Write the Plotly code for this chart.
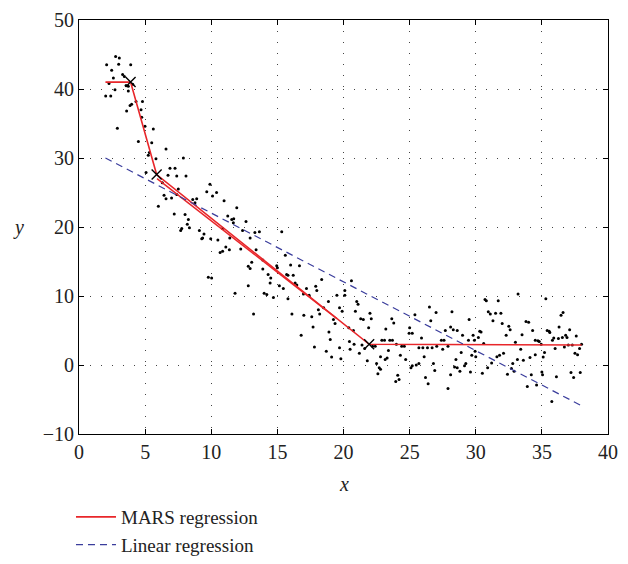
import plotly.graph_objects as go

obs_x = [
    2.09, 2.77, 3.05, 3.0, 3.91, 2.47, 2.6, 3.3, 3.43, 2.27, 2.02, 2.4, 2.72, 3.73, 3.73, 3.56, 4.06,
    3.86, 3.6, 3.98, 4.31, 4.8, 4.69, 4.74, 2.9, 4.99, 5.62, 4.49, 5.5, 5.32, 5.24, 6.58, 5.82, 7.89,
    5.07, 6.88, 7.26, 6.73, 7.39, 8.09, 7.51, 6.43, 6.58, 8.6, 8.9, 9.66, 10.1, 10.4, 9.9, 10.97,
    6.3, 7.0, 7.39, 6.0, 8.77, 11.93, 7.2, 8.02, 8.27, 8.19, 8.35, 7.77, 7.69, 9.1, 9.45, 9.35, 9.28,
    9.96, 10.5, 10.67, 10.86, 11.1, 11.37, 11.4, 10.86, 11.25, 11.55, 11.67, 11.7, 12.63, 12.37,
    12.23, 12.94, 13.3, 13.64, 13.39, 13.06, 12.8, 12.94, 15.33, 13.9, 13.9, 14.3, 14.5, 14.95, 15.0,
    15.6, 15.7, 15.8, 16.0, 16.2, 16.67, 16.34, 16.47, 17.2, 18.35, 17.9, 17.98, 12.8, 14.45, 14.0,
    14.2, 14.7, 15.15, 15.45, 15.8, 16.97, 17.4, 11.8, 9.78, 10.03, 13.2, 16.1, 17.0, 17.6, 17.7,
    18.1, 18.2, 18.5, 18.86, 19.24, 19.36, 19.7, 19.9, 20.1,
    16.8, 17.8, 18.7, 19.0, 18.9, 19.1, 19.5, 19.7, 19.8, 20.1, 20.6, 20.4, 20.75, 20.45, 20.5, 20.8,
    20.9, 21.0, 21.1, 21.2, 21.3, 21.5, 21.4, 21.6, 21.8, 21.9, 22.0, 22.1, 22.2, 22.4, 22.5, 22.6,
    22.7, 22.8, 22.8, 22.9, 23.1, 23.15, 23.3, 23.2, 23.4, 23.5, 23.7, 23.65, 23.8, 23.95, 24.1, 24.2,
    24.0, 24.3, 24.4, 24.6, 24.7, 24.96, 25.2, 25.0, 25.1, 25.2, 25.4, 25.5, 25.7, 25.7, 26.0, 25.9,
    26.1, 26.2, 26.35, 26.4, 26.5, 26.6, 26.7, 26.8, 26.9, 27.0, 27.05, 27.4, 27.6, 27.5, 27.9, 27.7,
    27.9, 28.1, 28.1, 28.3, 28.6, 28.2, 28.4, 28.5, 28.6, 28.8, 28.9, 29.0, 29.15, 29.25, 29.45, 29.5,
    29.6, 29.7, 29.8, 29.9, 29.95, 30.0, 30.2, 30.3, 30.4, 30.5, 30.6, 30.7, 30.8, 30.95, 31.1, 31.2,
    31.3, 31.6, 31.8, 31.7, 30.9,
    31.5, 31.9, 32.0, 32.5, 32.6, 32.3, 33.0, 33.2, 33.5, 33.4, 33.6, 33.15, 32.8, 32.7, 32.9, 32.4,
    32.1, 33.8, 34.0, 33.9, 34.1, 34.2, 34.3, 34.5, 34.5, 34.6, 34.7, 34.8, 34.95, 35.0, 35.05, 35.1,
    35.2, 35.3, 35.4, 35.55, 35.6, 35.75, 35.8, 35.9, 36.0, 36.1, 36.25, 36.3, 36.45, 36.6, 36.55,
    36.7, 36.8, 36.9, 37.0, 37.1, 37.2, 37.4, 37.3, 37.5, 37.7, 37.6, 37.85, 37.9, 38.0,
]
obs_y = [
    43.5, 44.7, 44.5, 43.6, 43.5, 42.7, 41.6, 42.1, 41.8, 40.8, 39.0, 39.0, 39.9, 40.4, 39.7, 40.5, 40.7,
    37.6, 36.8, 37.8, 38.2, 38.2, 37.0, 35.9, 34.3, 34.6, 34.2, 32.4, 32.2, 30.8, 30.4, 31.3, 29.9, 30.0,
    27.9, 28.5, 28.5, 27.5, 27.4, 27.4, 25.5, 24.6, 24.1, 24.0, 24.1, 25.1, 24.5, 25.0, 26.2, 23.8,
    26.4, 24.2, 24.7, 23.0, 23.5, 22.8, 21.9, 21.8, 21.1, 20.4, 19.9, 19.8, 19.5, 19.5, 19.0, 18.4, 18.3,
    18.3, 18.1, 16.3, 16.5, 17.1, 16.7, 18.4, 19.8, 21.6, 21.1, 20.6, 21.2, 20.8, 19.5,
    16.8, 18.4, 19.2, 19.3, 16.7, 14.9, 14.3, 14.0, 19.3, 15.2, 13.9, 13.1, 12.6, 14.4, 14.1,
    15.9, 13.1, 13.0, 14.5, 13.0, 14.4, 11.9, 11.6, 11.1, 12.4, 11.4, 10.8, 11.5, 11.9, 10.4,
    10.2, 9.8, 11.5, 11.1, 9.6, 10.3, 10.1, 10.4, 12.7, 12.6, 7.4, 7.4, 7.2, 7.0, 5.5,
    8.0, 7.4, 8.3, 9.2, 6.6, 6.0, 8.3, 7.8, 10.1,
    4.3, 2.6, 2.0, 3.7, 4.8, 1.15, 10.1, 2.5, 0.9, 10.8, 12.2, 5.4, 5.0, 3.4, 2.3, 3.0,
    7.8, 9.2, 8.8, 1.7, 6.7, 6.6, 2.9, 2.4, 0.6, 5.4, 7.5, 6.7, 2.7, 2.7, 0.2, -1.25,
    -0.4, -0.6, 1.2, 3.6, 3.6, 0.8, 1.0, 5.2, 2.1, 3.6, 3.6, 6.7, 6.1, -2.4, -1.5, -2.1,
    3.0, 1.4, 2.7, 2.7, 0.8, 4.6, 4.6, 5.4, -0.4, -0.1, 7.3, 0.0, 0.2, 2.5, 2.5, 3.9,
    1.2, -1.8, 2.5, -2.7, 8.4, 6.4, 2.5, 0.2, -0.8, 7.6, 2.7, 3.6, 3.6, 2.3, 2.7, 5.0,
    -3.4, -1.4, 5.5, 5.1, 5.0, 7.7, -0.3, 0.8, -0.4, -0.9, 1.8, 4.3, -0.1, 0.2, 3.6, 6.6,
    -1.0, 1.4, 4.3, 3.6, 2.0, 1.2, 4.0, 4.9, 4.8, -1.2, 3.1, 9.5, 9.3, 7.7, 7.4, 0.3,
    6.4, 1.2, 1.4, 9.3, -0.4,
    7.5, 7.5, 6.0, 5.6, 5.1, 4.3, 3.3, 10.3, 4.4, 2.3, 0.7, 0.8, 0.2, -0.5, -0.9, -1.35,
    1.7, 6.3, 6.2, -3.1, 1.1, -1.4, 5.0, 3.6, 1.5, -2.9, 3.5, 3.4, 3.0, -1.0, -1.4, 1.15,
    1.8, 9.6, 5.0, 4.9, 4.7, -5.3, 3.6, 3.9, 2.4, -1.7, 3.85, 5.5, 7.2, 7.6, 4.0,
    2.6, 4.3, 4.0, 2.9, 5.1, -1.1, -1.8, 2.9, 1.7, 1.5, 4.2, 2.4, -1.1, 3.0,
]

# MARS fit: end points and knots
mars_x = [2.0, 3.9, 5.87, 21.94, 38.0]
mars_y = [41.0, 41.0, 27.6, 3.0, 2.9]
# second, slightly offset stroke of the middle segment seen in the figure
mars2_x = [5.9, 19.5]
mars2_y = [27.0, 6.73]
knot_x = [3.9, 5.87, 21.94]
knot_y = [41.0, 27.6, 3.0]

# linear fit
lin_x = [2.0, 38.0]
lin_y = [30.0, -5.9]

x_ticks = [0, 5, 10, 15, 20, 25, 30, 35, 40]
y_ticks = [-10, 0, 10, 20, 30, 40, 50]

serif = 'Liberation Serif'
red = '#e8262a'

fig = go.Figure()
fig.add_trace(go.Scatter(x=obs_x, y=obs_y, mode='markers', showlegend=False,
                         marker=dict(color='black', size=3)))
fig.add_trace(go.Scatter(x=mars2_x, y=mars2_y, mode='lines', showlegend=False,
                         line=dict(color=red, width=1.5)))
fig.add_trace(go.Scatter(x=mars_x, y=mars_y, mode='lines', name='MARS regression',
                         line=dict(color=red, width=1.6)))
fig.add_trace(go.Scatter(x=lin_x, y=lin_y, mode='lines', name='Linear regression',
                         line=dict(color='#3a3d9c', width=1.2, dash='7px,5px')))
fig.add_trace(go.Scatter(x=knot_x, y=knot_y, mode='markers', showlegend=False,
                         marker=dict(symbol='x-thin', size=10, color='black',
                                     line=dict(color='black', width=1.4))))

axis_common = dict(
    showline=True, linecolor='black', linewidth=1, mirror='ticks',
    ticks='inside', ticklen=5, tickcolor='black', automargin=False,
    ticklabeloverflow='allow',
    showgrid=True, gridcolor='#444444', gridwidth=1, griddash='1px,10px',
    zeroline=False,
    tickfont=dict(family=serif, size=20, color='#222222'),
)

# everything is kept inside the paper so nothing pushes the margins
fig.update_xaxes(range=[0, 40], tickvals=x_ticks, domain=[66 / 613, 595 / 613], **axis_common)
fig.update_yaxes(range=[-10, 50], tickvals=y_ticks, domain=[133 / 547, 1],
                 ticktext=['\u221210' if v == -10 else str(v) for v in y_ticks],
                 **axis_common)

fig.update_layout(
    width=628, height=564,
    margin=dict(l=5, r=10, t=12, b=5),
    paper_bgcolor='white', plot_bgcolor='white',
    font=dict(family=serif, size=19, color='#222222'),
    legend=dict(x=0.0946, y=0.0055, xanchor='left', yanchor='bottom',
                font=dict(family=serif, size=19, color='#222222'),
                tracegroupgap=0, itemwidth=40),
    annotations=[
        dict(text='<i>x</i>', x=20, y=0.1517, xref='x', yref='paper', showarrow=False,
             xanchor='center', yanchor='middle',
             font=dict(family=serif, size=20, color='#222222')),
        dict(text='<i>y</i>', x=0.00816, y=20, xref='paper', yref='y', showarrow=False,
             xanchor='center', yanchor='middle',
             font=dict(family=serif, size=20, color='#222222')),
    ],
)

fig.write_html('out.html')
